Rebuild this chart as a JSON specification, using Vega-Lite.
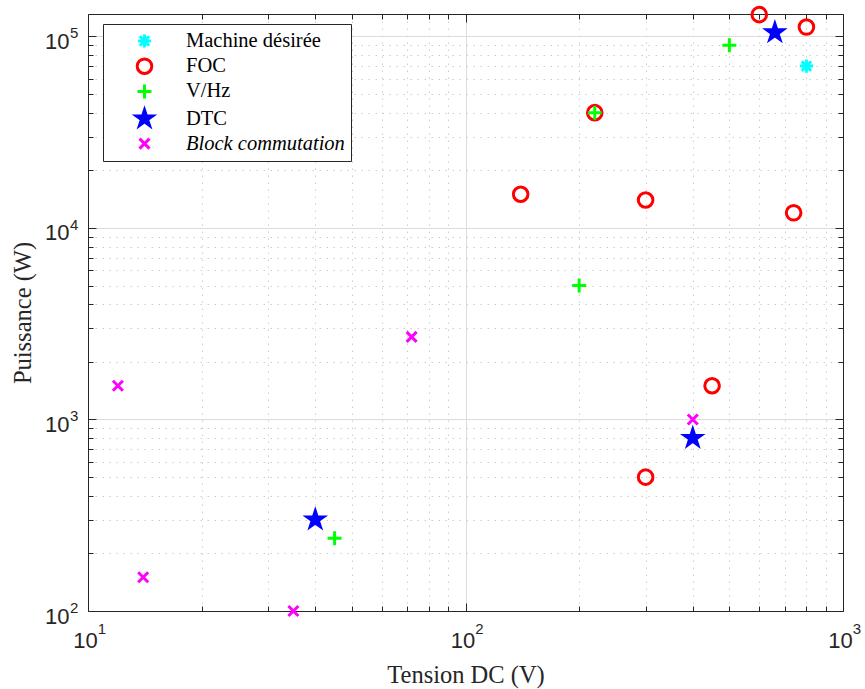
{
  "$schema": "https://vega.github.io/schema/vega-lite/v6.json",
  "width": 755,
  "height": 597,
  "autosize": {"type": "none"},
  "padding": {"left": 88, "top": 14, "right": 22, "bottom": 78},
  "background": "white",
  "config": {
    "view": {"stroke": null},
    "axis": {
      "labelFont": "Liberation Sans",
      "labelColor": "#262626",
      "titleFont": "Liberation Serif",
      "titleColor": "#262626",
      "titleFontWeight": "normal",
      "domainColor": "#262626",
      "tickColor": "#262626",
      "labelFlush": false,
      "labelOverlap": false,
      "labelBound": false
    },
    "legend": {
      "orient": "none", "legendX": 15, "legendY": 10, "title": null,
      "padding": 5.5, "symbolOffset": 24.5, "labelOffset": 30, "rowPadding": -1.8,
      "symbolSize": 400, "symbolStrokeWidth": 3,
      "labelFont": "Liberation Serif", "labelFontSize": 20.5, "labelColor": "black", "labelLimit": 400,
      "strokeColor": "#262626", "fillColor": "white", "cornerRadius": 0
    }
  },
  "data": {
    "values": [
      {"methode": "Machine désirée", "tension": 800, "puissance": 70000},
      {"methode": "FOC", "tension": 600, "puissance": 130000},
      {"methode": "FOC", "tension": 800, "puissance": 112000},
      {"methode": "FOC", "tension": 220, "puissance": 40000},
      {"methode": "FOC", "tension": 140, "puissance": 15000},
      {"methode": "FOC", "tension": 300, "puissance": 14000},
      {"methode": "FOC", "tension": 740, "puissance": 12000},
      {"methode": "FOC", "tension": 450, "puissance": 1500},
      {"methode": "FOC", "tension": 300, "puissance": 500},
      {"methode": "V/Hz", "tension": 500, "puissance": 90000},
      {"methode": "V/Hz", "tension": 220, "puissance": 40000},
      {"methode": "V/Hz", "tension": 200, "puissance": 5000},
      {"methode": "V/Hz", "tension": 45, "puissance": 240},
      {"methode": "DTC", "tension": 660, "puissance": 105000},
      {"methode": "DTC", "tension": 400, "puissance": 800},
      {"methode": "DTC", "tension": 40, "puissance": 300},
      {"methode": "Block commutation", "tension": 12, "puissance": 1500},
      {"methode": "Block commutation", "tension": 72, "puissance": 2700},
      {"methode": "Block commutation", "tension": 400, "puissance": 1000},
      {"methode": "Block commutation", "tension": 14, "puissance": 150},
      {"methode": "Block commutation", "tension": 35, "puissance": 100}
    ]
  },
  "resolve": {"axis": {"x": "independent", "y": "independent"}},
  "layer": [
    {
      "mark": {"type": "point", "size": 400, "strokeWidth": 3, "opacity": 1, "clip": false},
      "encoding": {
        "x": {
          "field": "tension", "type": "quantitative",
          "scale": {"type": "log", "domain": [10, 1000], "nice": false},
          "axis": {
            "orient": "bottom", "values": [10, 100, 1000],
            "labelExpr": "'10'", "labelAlign": "right", "labelBaseline": "alphabetic",
            "labelOffset": 9.3, "labelPadding": 36.5, "labelFontSize": 22,
            "ticks": false, "tickSize": 0,
            "grid": true, "gridColor": "#dcdcdc", "gridWidth": 1,
            "domain": true, "domainWidth": 1,
            "title": "Tension DC (V)", "titleFontSize": 24.5,
            "titleX": 377.5, "titleY": 71, "titleAlign": "center", "titleBaseline": "alphabetic"
          }
        },
        "y": {
          "field": "puissance", "type": "quantitative",
          "scale": {"type": "log", "domain": [100, 131000], "nice": false},
          "axis": {
            "orient": "left", "values": [100, 1000, 10000, 100000],
            "labelExpr": "'10'", "labelAlign": "right", "labelBaseline": "alphabetic",
            "labelOffset": 12, "labelPadding": 19, "labelFontSize": 22,
            "ticks": false, "tickSize": 0,
            "grid": true, "gridColor": "#dcdcdc", "gridWidth": 1,
            "domain": true, "domainWidth": 1,
            "title": "Puissance (W)", "titleFontSize": 24.5, "titleAngle": -90,
            "titleX": -58, "titleY": 298.5, "titleAlign": "center", "titleBaseline": "alphabetic"
          }
        },
        "shape": {
          "field": "methode", "type": "nominal",
          "scale": {
            "domain": ["Machine désirée", "FOC", "V/Hz", "DTC", "Block commutation"],
            "range": [
              "M-0.66,0H0.66M0,-0.66V0.66M-0.47,-0.47L0.47,0.47M0.47,-0.47L-0.47,0.47",
              "M0.73,0A0.73,0.73,0,1,1,-0.73,0A0.73,0.73,0,1,1,0.73,0Z",
              "M-0.7,0H0.7M0,-0.7V0.7",
              "M0,-0.86L0.193,-0.266L0.818,-0.266L0.312,0.102L0.506,0.696L0,0.329L-0.506,0.696L-0.312,0.102L-0.818,-0.266L-0.193,-0.266Z",
              "M-0.5,-0.5L0.5,0.5M0.5,-0.5L-0.5,0.5"
            ]
          },
          "legend": {
            "labelExpr": "datum.value == 'Block commutation' ? '\u00a0Block commutation' : datum.label",
            "labelFontStyle": {"expr": "datum.value == 'Block commutation' ? 'italic' : 'normal'"}
          }
        },
        "stroke": {
          "field": "methode", "type": "nominal",
          "scale": {
            "domain": ["Machine désirée", "FOC", "V/Hz", "DTC", "Block commutation"],
            "range": ["#00ffff", "#ff0000", "#00ff00", "#0000ff", "#ff00ff"]
          },
          "legend": {
            "labelExpr": "datum.value == 'Block commutation' ? '\u00a0Block commutation' : datum.label",
            "labelFontStyle": {"expr": "datum.value == 'Block commutation' ? 'italic' : 'normal'"}
          }
        },
        "fill": {
          "field": "methode", "type": "nominal",
          "scale": {
            "domain": ["Machine désirée", "FOC", "V/Hz", "DTC", "Block commutation"],
            "range": ["#00ffff", "transparent", "#00ff00", "#0000ff", "#ff00ff"]
          },
          "legend": {
            "labelExpr": "datum.value == 'Block commutation' ? '\u00a0Block commutation' : datum.label",
            "labelFontStyle": {"expr": "datum.value == 'Block commutation' ? 'italic' : 'normal'"}
          }
        }
      }
    },
    {
      "mark": {"type": "point", "opacity": 0},
      "encoding": {
        "x": {
          "field": "tension", "type": "quantitative",
          "scale": {"type": "log", "domain": [10, 1000], "nice": false},
          "axis": {
            "orient": "bottom", "values": [10, 100, 1000],
            "labelExpr": "'' + round(log(datum.value) / LN10)",
            "labelAlign": "left", "labelBaseline": "alphabetic",
            "labelOffset": 9.3, "labelPadding": 22, "labelFontSize": 15,
            "ticks": false, "tickSize": 0, "grid": false, "domain": false, "title": null
          }
        },
        "y": {
          "field": "puissance", "type": "quantitative",
          "scale": {"type": "log", "domain": [100, 131000], "nice": false},
          "axis": {
            "orient": "left", "values": [100, 1000, 10000, 100000],
            "labelExpr": "'' + round(log(datum.value) / LN10)",
            "labelAlign": "left", "labelBaseline": "alphabetic",
            "labelOffset": 1.5, "labelPadding": 18.5, "labelFontSize": 15,
            "ticks": false, "tickSize": 0, "grid": false, "domain": false, "title": null
          }
        }
      }
    },
    {
      "mark": {"type": "point", "opacity": 0},
      "encoding": {
        "x": {
          "field": "tension", "type": "quantitative",
          "scale": {"type": "log", "domain": [10, 1000], "nice": false},
          "axis": {
            "orient": "bottom",
            "values": [20, 30, 40, 50, 60, 70, 80, 90, 200, 300, 400, 500, 600, 700, 800, 900],
            "labels": false, "domain": false, "title": null,
            "ticks": true, "tickSize": -5, "tickWidth": 1,
            "grid": true, "gridColor": "#cdcdcd", "gridDash": [1.5, 5.5], "gridWidth": 1
          }
        },
        "y": {
          "field": "puissance", "type": "quantitative",
          "scale": {"type": "log", "domain": [100, 131000], "nice": false},
          "axis": {
            "orient": "left",
            "values": [200, 300, 400, 500, 600, 700, 800, 900, 2000, 3000, 4000, 5000, 6000, 7000, 8000, 9000, 20000, 30000, 40000, 50000, 60000, 70000, 80000, 90000],
            "labels": false, "domain": false, "title": null,
            "ticks": true, "tickSize": -5, "tickWidth": 1,
            "grid": true, "gridColor": "#cdcdcd", "gridDash": [1.5, 5.5], "gridWidth": 1
          }
        }
      }
    },
    {
      "mark": {"type": "point", "opacity": 0},
      "encoding": {
        "x": {
          "field": "tension", "type": "quantitative",
          "scale": {"type": "log", "domain": [10, 1000], "nice": false},
          "axis": {
            "orient": "bottom", "values": [10, 100, 1000],
            "labels": false, "domain": false, "title": null, "grid": false,
            "ticks": true, "tickSize": -8, "tickWidth": 1
          }
        },
        "y": {
          "field": "puissance", "type": "quantitative",
          "scale": {"type": "log", "domain": [100, 131000], "nice": false},
          "axis": {
            "orient": "left", "values": [100, 1000, 10000, 100000],
            "labels": false, "domain": false, "title": null, "grid": false,
            "ticks": true, "tickSize": -8, "tickWidth": 1
          }
        }
      }
    },
    {
      "mark": {"type": "point", "opacity": 0},
      "encoding": {
        "x": {
          "field": "tension", "type": "quantitative",
          "scale": {"type": "log", "domain": [10, 1000], "nice": false},
          "axis": {
            "orient": "top", "values": [10, 100, 1000],
            "labels": false, "domain": true, "domainWidth": 1, "title": null, "grid": false,
            "ticks": true, "tickSize": -8, "tickWidth": 1
          }
        },
        "y": {
          "field": "puissance", "type": "quantitative",
          "scale": {"type": "log", "domain": [100, 131000], "nice": false},
          "axis": {
            "orient": "right", "values": [100, 1000, 10000, 100000],
            "labels": false, "domain": true, "domainWidth": 1, "title": null, "grid": false,
            "ticks": true, "tickSize": -8, "tickWidth": 1
          }
        }
      }
    },
    {
      "mark": {"type": "point", "opacity": 0},
      "encoding": {
        "x": {
          "field": "tension", "type": "quantitative",
          "scale": {"type": "log", "domain": [10, 1000], "nice": false},
          "axis": {
            "orient": "top",
            "values": [20, 30, 40, 50, 60, 70, 80, 90, 200, 300, 400, 500, 600, 700, 800, 900],
            "labels": false, "domain": false, "title": null, "grid": false,
            "ticks": true, "tickSize": -5, "tickWidth": 1
          }
        },
        "y": {
          "field": "puissance", "type": "quantitative",
          "scale": {"type": "log", "domain": [100, 131000], "nice": false},
          "axis": {
            "orient": "right",
            "values": [200, 300, 400, 500, 600, 700, 800, 900, 2000, 3000, 4000, 5000, 6000, 7000, 8000, 9000, 20000, 30000, 40000, 50000, 60000, 70000, 80000, 90000],
            "labels": false, "domain": false, "title": null, "grid": false,
            "ticks": true, "tickSize": -5, "tickWidth": 1
          }
        }
      }
    }
  ]
}
